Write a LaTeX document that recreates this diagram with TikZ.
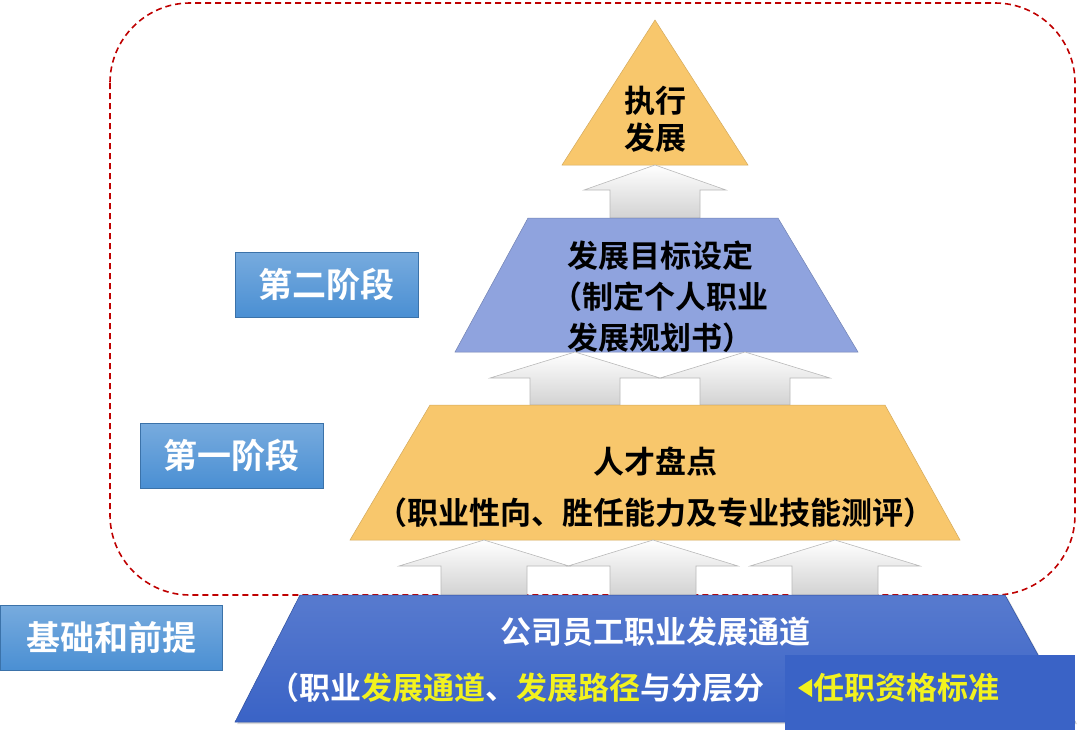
\documentclass[tikz,border=0pt]{standalone}
\usepackage{fontspec}
\newfontfamily\cjk{Noto Sans CJK SC Bold}
\usetikzlibrary{shadows}
\definecolor{ylw}{HTML}{F8C76C}
\definecolor{mblue}{HTML}{8FA3DE}
\definecolor{dblue}{HTML}{3A63C6}
\definecolor{lblue}{HTML}{4A8FD3}
\definecolor{txtyel}{HTML}{F2F21E}
\tikzset{
  lbl/.style={draw=lblue!80!black,line width=0.5pt,top color=lblue!75,bottom color=lblue,text=white,font=\cjk\fontsize{34}{34}\selectfont,minimum height=65pt,anchor=north west,inner sep=0pt},
  arr/.style={draw=gray!55,top color=white,bottom color=gray!35,line width=0.6pt},
  ttl/.style={font=\cjk\fontsize{31}{37}\selectfont,text=black,align=center},
}
\newcommand\uparr[7]{%
  \path[arr] (#1,#2) -- (#1+#5,#3) -- (#1+#6,#3) -- (#1+#6,#4) -- (#1-#6,#4) -- (#1-#6,#3) -- (#1-#5,#3) -- cycle;}
\begin{document}
\begin{tikzpicture}[x=1pt,y=-1pt]
\useasboundingbox (0,0) rectangle (1080,732);
\draw[red!75!black,dash pattern=on 6pt off 4pt,line width=1.6pt,rounded corners=80pt] (110,3) rectangle (1075,595);
\path[fill=ylw,draw=ylw!85!black,line width=0.5pt] (655,20) -- (748,165) -- (562,165) -- cycle;
\node[ttl] (t3) at (655,119) {执行\\发展};
\uparr{655}{165}{190}{218}{71}{45}{}
\path[fill=mblue,draw=mblue!80!black,line width=0.5pt] (528,218) -- (778,218) -- (858,352) -- (455,352) -- cycle;
\node[ttl,font=\cjk\fontsize{31}{41}\selectfont] (t2) at (660,297) {发展目标设定\\（制定个人职业\\发展规划书）};
\uparr{575}{352}{378}{405}{85}{45}{}
\uparr{745}{352}{378}{405}{85}{45}{}
\path[fill=ylw,draw=ylw!85!black,line width=0.5pt] (430,405) -- (885,405) -- (960,540) -- (350,540) -- cycle;
\node[ttl] (t1a) at (655,462) {人才盘点};
\node[ttl] (t1b) at (655,513) {（职业性向、胜任能力及专业技能测评）};
\uparr{484}{540}{566}{595}{85}{43}{}
\uparr{653}{540}{566}{595}{85}{43}{}
\uparr{835}{540}{566}{595}{85}{43}{}
\path[top color=dblue!85!white,bottom color=dblue,draw=dblue!80!black,line width=0.5pt,drop shadow={opacity=0.3}] (300,595) -- (1005,595) -- (1075,722) -- (235,722) -- cycle;
\path[fill=dblue] (785,655) rectangle (1075,730);
\node[ttl,text=white] (b1) at (655,632) {公司员工职业发展通道};
\node[ttl,text=white,anchor=west,inner sep=0pt] (b2) at (268,688) {（职业\textcolor{txtyel}{发展通道}、\textcolor{txtyel}{发展路径}与分层分};
\path[fill=txtyel] (798,688) -- (812,679) -- (812,697) -- cycle;
\node[ttl,text=txtyel,anchor=west,inner sep=0pt] (b3) at (813,688) {任职资格标准};
\node[lbl,minimum width=183pt] (s2) at (235,252) {第二阶段};
\node[lbl,minimum width=183pt] (s1) at (140,423) {第一阶段};
\node[lbl,minimum width=222pt] (s0) at (0,605) {基础和前提};
\end{tikzpicture}
\end{document}
